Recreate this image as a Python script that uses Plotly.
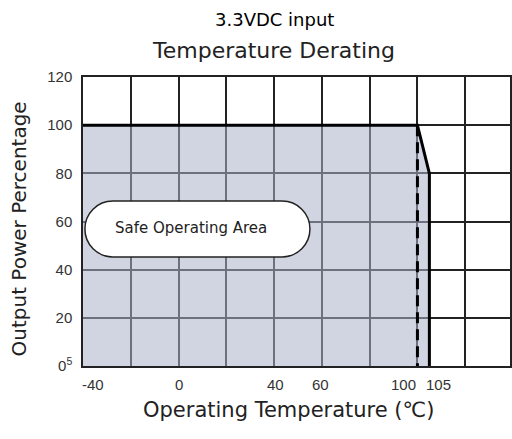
#!/usr/bin/env python3

import plotly.graph_objects as go

# derating curve (temperature in degC, output power in %)
curve_temp = [-40, 100, 105, 105]
curve_power = [100, 100, 80, 0]

# dashed marker at the derating start
knee_temp = [100, 100]
knee_power = [100, 0]

x_tickvals = [-40, 0, 40, 60, 100, 105]
x_ticktext = ['-40', '0', '40', '60', '100', '105']
y_tickvals = [0, 20, 40, 60, 80, 100, 120]
y_ticktext = ['0<sup>5</sup>', '20', '40', '60', '80', '100', '120']

# safe operating area label box (data units)
soa_x = [-39.2, 55.0]
soa_y = [45.3, 68.5]

HAND = "DejaVu Sans"
LABEL = "Liberation Sans, Arial, sans-serif"

# px per unit, plot is 429 x 289 px
XS = 429 / 178.75
YS = 289 / 120


def stadium(x0, x1, y0, y1):
    r_px = (y1 - y0) * YS / 2
    rx = r_px / XS
    ry = r_px / YS
    k = 0.5523
    ym = (y0 + y1) / 2
    p = f"M {x0+rx},{y1} L {x1-rx},{y1} "
    p += f"C {x1-rx+k*rx},{y1} {x1},{ym+k*ry} {x1},{ym} "
    p += f"C {x1},{ym-k*ry} {x1-rx+k*rx},{y0} {x1-rx},{y0} "
    p += f"L {x0+rx},{y0} "
    p += f"C {x0+rx-k*rx},{y0} {x0},{ym-k*ry} {x0},{ym} "
    p += f"C {x0},{ym+k*ry} {x0+rx-k*rx},{y1} {x0+rx},{y1} Z"
    return p


fig = go.Figure()

fig.add_trace(go.Scatter(
    x=curve_temp, y=curve_power, mode='lines', fill='tozeroy',
    fillcolor='rgba(172,178,200,0.55)',
    line=dict(color='black', width=3), showlegend=False, hoverinfo='skip'
))
fig.add_trace(go.Scatter(
    x=knee_temp, y=knee_power, mode='lines',
    line=dict(color='black', width=3, dash='11px,6px'),
    showlegend=False, hoverinfo='skip'
))

fig.add_shape(type='path', path=stadium(soa_x[0], soa_x[1], soa_y[0], soa_y[1]),
              xref='x', yref='y', fillcolor='white',
              line=dict(color='#222', width=1.5), layer='above')

fig.add_annotation(x=(soa_x[0] + soa_x[1]) / 2 - 2.5, y=(soa_y[0] + soa_y[1]) / 2 + 0.5,
                   text='Safe Operating Area', showarrow=False,
                   font=dict(family=HAND, size=15, color='#222'))

# x tick labels, nudged like the original
x_shift = [10, 0, 1, -1, -14, 9]
for v, t, s in zip(x_tickvals, x_ticktext, x_shift):
    fig.add_annotation(x=v, y=0, yref='y', text=t, showarrow=False,
                       yanchor='top', yshift=-8, xshift=s,
                       font=dict(family=LABEL, size=15, color='#333'))

fig.add_annotation(x=0.5, y=1, xref='paper', yref='paper', xanchor='center', yanchor='top',
                   text='3.3VDC input', showarrow=False, yshift=77 - 7,
                   font=dict(family='DejaVu Sans', size=18, color='black'), xshift=-22)
fig.add_annotation(x=0.5, y=1, xref='paper', yref='paper', xanchor='center', yanchor='top',
                   text='Temperature Derating', showarrow=False, yshift=77 - 36,
                   font=dict(family=HAND, size=22, color='#222'), xshift=-23)
fig.add_annotation(x=0.5, y=0, xref='paper', yref='paper', xanchor='center', yanchor='top',
                   text='Operating Temperature (℃)', showarrow=False, yshift=-30,
                   font=dict(family=HAND, size=21, color='#222'), xshift=-8)
fig.add_annotation(x=0, y=0.5, xref='paper', yref='paper', xanchor='center', yanchor='middle',
                   text='Output Power Percentage', showarrow=False, textangle=-90,
                   xshift=-65, yshift=-8,
                   font=dict(family=HAND, size=20, color='#222'))

fig.update_xaxes(range=[-40, 138.75], tick0=-40, dtick=20, showticklabels=False,
                 showgrid=True, gridcolor='#222', gridwidth=1.5, zeroline=False,
                 showline=True, mirror=True, linecolor='#222', linewidth=1.5,
                 ticks='', fixedrange=True)
fig.update_yaxes(range=[0, 120], tickvals=y_tickvals, ticktext=y_ticktext,
                 showgrid=True, gridcolor='#222', gridwidth=1.5, zeroline=False,
                 showline=True, mirror=True, linecolor='#222', linewidth=1.5,
                 ticks='', ticklabelstandoff=6,
                 tickfont=dict(family=LABEL, size=15, color='#333'), fixedrange=True)

fig.update_layout(width=512, height=439, margin=dict(l=83, r=0, t=77, b=73),
                  paper_bgcolor='white', plot_bgcolor='white')

# page body margin would push the figure 8px off the window
fig.write_html("out.html", config={'displayModeBar': False},
               post_script="document.body.style.margin='0';")
